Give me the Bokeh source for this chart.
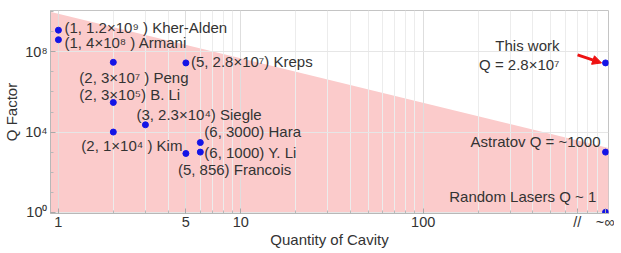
from bokeh.plotting import figure
from bokeh.models import (FixedTicker, Range1d, Arrow, NormalHead,
                          ColumnDataSource, CustomJSTickFormatter)
from bokeh.core.properties import value
from bokeh.embed import file_html
from bokeh.resources import INLINE

# ---------------- data ----------------
INF = 1000   # position used for the "~∞" column
BREAK = 700  # position of the axis break mark "//"

cavities = [1, 1, 5, 2, 2, 3, 2, 6, 6, 5]
q_values = [1.2e9, 4e8, 2.8e7, 3e7, 3e5, 2.3e4, 1e4, 3000, 1000, 856]
labels = ["(1, 1.2×10⁹ ) Kher-Alden", "(1, 4×10⁸ ) Armani", "(5, 2.8×10⁷) Kreps",
          "(2, 3×10⁷ ) Peng", "(2, 3×10⁵) B. Li", "(3, 2.3×10⁴) Siegle",
          "(2, 1×10⁴  ) Kim", "(6, 3000) Hara", "(6, 1000) Y. Li", "(5, 856) Francois"]

inf_cavities = [INF, INF, INF]
inf_q = [2.8e7, 1000, 1]
inf_labels = ["This work\nQ = 2.8×10⁷", "Astratov Q = ~1000", "Random Lasers  Q ~ 1"]

shade_x = [0.9, 1040, 1040, 0.9]
shade_q = [1e10, 1.6e3, 0.5, 0.5]

x_ticks = [1, 5, 10, 100]
x_minor = [2, 3, 4, 6, 7, 8, 9, 20, 30, 40, 50, 60, 70, 80, 90,
           200, 300, 400, 500, 600, 700, 800, 900]
y_ticks = [1, 1e4, 1e8]
y_minor = [1e1, 1e2, 1e3, 1e5, 1e6, 1e7, 1e9, 1e10]

# ---------------- layout / style ----------------
label_dx = [6, 6, 5, -34, -34, -9, -32, 4, 4, -8]
label_dy = [-3, 3, -1, 15, -8, -10, 13, -11, 0, 16]
inf_dx = [-46, -5, -5]
inf_dy = [-8, -11, -16]

FONT = "Liberation Sans"
TXT = "#333333"
X_LO, X_HI = 0.905, 1038
Y_LO, Y_HI = 10 ** -0.06, 10 ** 10.06
XPX, YPX = 182.4, 20.0   # approx pixels per decade

p = figure(frame_width=558, frame_height=203, x_axis_type="log", y_axis_type="log",
           x_range=Range1d(X_LO, X_HI), y_range=Range1d(Y_LO, Y_HI),
           output_backend="svg", toolbar_location=None,
           min_border_left=41, min_border_right=6, min_border_top=10,
           min_border_bottom=30)
p.background_fill_color = "white"
p.outline_line_color = "#c4c4c4"

shade = p.patch(shade_x, shade_q, fill_color="#fbcbcb", line_color=None)
shade.level = "image"

p.xaxis.ticker = FixedTicker(ticks=x_ticks + [BREAK, INF], minor_ticks=x_minor)
p.yaxis.ticker = FixedTicker(ticks=y_ticks, minor_ticks=y_minor)
p.xgrid.ticker = FixedTicker(ticks=x_ticks, minor_ticks=x_minor)
p.xaxis.formatter = CustomJSTickFormatter(
    args=dict(inf=INF, brk=BREAK),
    code="""
if (tick == inf) return "~∞";
if (tick == brk) return "//";
return Math.round(tick).toString();
""")
p.yaxis.formatter = CustomJSTickFormatter(code="""
const s = {"0":"⁰","1":"¹","2":"²","3":"³","4":"⁴","5":"⁵","6":"⁶","7":"⁷","8":"⁸","9":"⁹"};
const e = Math.round(Math.log10(tick)).toString();
return "10" + e.split("").map(c => s[c]).join("");
""")
for ax in (p.xaxis[0], p.yaxis[0]):
    ax.major_tick_in = 5
    ax.major_tick_out = 0
    ax.minor_tick_in = 3
    ax.minor_tick_out = 0
    ax.axis_line_color = "#b8b8b8"
    ax.major_tick_line_color = "#a8a8a8"
    ax.minor_tick_line_color = "#b8b8b8"
    ax.major_label_text_font = FONT
    ax.major_label_text_font_size = "14.5px"
    ax.major_label_text_color = TXT
    ax.axis_label_text_font = FONT
    ax.axis_label_text_font_size = "15px"
    ax.axis_label_text_font_style = "normal"
    ax.axis_label_text_color = TXT
p.yaxis.major_label_standoff = 3
p.yaxis.axis_label_standoff = 2
p.xaxis.major_label_standoff = 0
p.xaxis.axis_label_standoff = -2
p.xaxis.axis_label = "Quantity of Cavity"
p.yaxis.axis_label = "Q Factor"

p.xgrid.grid_line_color = "#dedede"
p.xgrid.minor_grid_line_color = "#ececec"
p.ygrid.grid_line_color = "#e6e6e6"
p.ygrid.minor_grid_line_color = None

src = ColumnDataSource(dict(x=cavities, y=q_values, t=labels, dx=label_dx, dy=label_dy))
p.scatter("x", "y", source=src, size=6, color="#1414e6")
p.text("x", "y", text="t", source=src, x_offset="dx", y_offset="dy",
       text_font=value(FONT), text_font_size="15px", text_color=TXT,
       text_baseline="middle", text_align="left")

isrc = ColumnDataSource(dict(x=inf_cavities, y=inf_q, t=inf_labels, dx=inf_dx, dy=inf_dy))
p.scatter("x", "y", source=isrc, size=6, color="#1414e6")
p.text("x", "y", text="t", source=isrc, x_offset="dx", y_offset="dy",
       text_font=value(FONT), text_font_size="15px", text_color=TXT,
       text_baseline="middle", text_align="right", text_line_height=1.15)

# red arrow pointing to "This work"
tw_x, tw_y = inf_cavities[0], inf_q[0]
p.add_layout(Arrow(x_start=tw_x * 10 ** (-28 / XPX), y_start=tw_y * 10 ** (8 / YPX),
                   x_end=tw_x * 10 ** (-4 / XPX), y_end=tw_y,
                   line_color="#ee1111", line_width=3,
                   end=NormalHead(size=9, fill_color="#ee1111", line_color="#ee1111")))

open("out.html", "w").write(file_html(p, INLINE))
